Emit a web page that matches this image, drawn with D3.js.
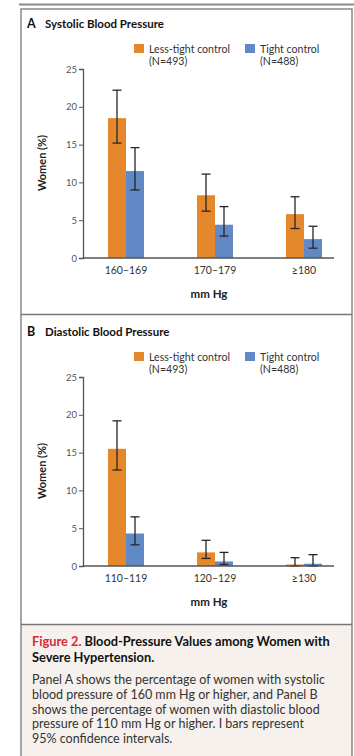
<!DOCTYPE html>
<html>
<head>
<meta charset="utf-8">
<script src="https://cdn.jsdelivr.net/npm/d3@7"></script>
<style>
  body { margin: 0; background: #fff; }
  svg text { font-family: Lato, "Open Sans", sans-serif; }
</style>
</head>
<body>
<svg id="chart" width="354" height="756"></svg>
<script>
// Panel A: systolic
const sysCats = ["160–169", "170–179", "≥180"];
const sysLess = [18.5, 8.3, 5.8];
const sysLessLo = [15.2, 6.2, 3.9];
const sysLessHi = [22.2, 11.1, 8.1];
const sysTight = [11.5, 4.4, 2.5];
const sysTightLo = [9.0, 2.9, 1.3];
const sysTightHi = [14.6, 6.8, 4.2];

// Panel B: diastolic
const diaCats = ["110–119", "120–129", "≥130"];
const diaLess = [15.5, 1.8, 0.2];
const diaLessLo = [12.7, 1.0, 0.0];
const diaLessHi = [19.2, 3.4, 1.1];
const diaTight = [4.3, 0.6, 0.3];
const diaTightLo = [2.8, 0.2, 0.0];
const diaTightHi = [6.5, 1.8, 1.5];

const yTicks = [0, 5, 10, 15, 20, 25];
const seriesNames = ["Less-tight control", "Tight control"];
const seriesN = ["(N=493)", "(N=488)"];
const colors = ["#e4882b", "#6189c5"];

const svg = d3.select("#chart");

// frame
svg.append("line").attr("x1", 19).attr("x2", 354).attr("y1", 4.5).attr("y2", 4.5)
  .attr("stroke", "#8a8a8a").attr("stroke-width", 2);
svg.append("rect").attr("x", 21).attr("y", 625).attr("width", 331).attr("height", 131)
  .attr("fill", "#f6f1ec");
svg.append("rect").attr("x", 21).attr("y", 9).attr("width", 331).attr("height", 760)
  .attr("fill", "none").attr("stroke", "#777").attr("stroke-width", 1.3);
svg.append("line").attr("x1", 21).attr("x2", 352).attr("y1", 314.5).attr("y2", 314.5)
  .attr("stroke", "#777").attr("stroke-width", 1.3);
svg.append("line").attr("x1", 21).attr("x2", 352).attr("y1", 624.5).attr("y2", 624.5)
  .attr("stroke", "#777").attr("stroke-width", 1.3);

function drawPanel(top, letter, title, cats, vals, los, his) {
  const g = svg.append("g").attr("transform", `translate(0,${top})`);
  const y = d3.scaleLinear().domain([0, 25]).range([258, 69]);
  const x = d3.scaleBand().domain(cats).range([81.5, 348.5])
    .paddingInner(0.5955).paddingOuter(0.2978);
  const xs = d3.scaleBand().domain([0, 1]).range([0, x.bandwidth()]);

  g.append("text").attr("x", 27).attr("y", 27.5)
    .style("font-size", "12.5px").style("font-weight", "bold").attr("fill", "#111").text(letter);
  g.append("text").attr("x", 45).attr("y", 27.5)
    .style("font-size", "11.5px").style("font-weight", "bold").attr("fill", "#111").text(title);

  // legend
  const lx = [134, 245];
  seriesNames.forEach((s, i) => {
    g.append("rect").attr("x", lx[i]).attr("y", 44).attr("width", 10).attr("height", 9)
      .attr("fill", colors[i]);
    g.append("text").attr("x", lx[i] + 15).attr("y", 52.5)
      .style("font-size", "10.6px").attr("fill", "#333").text(s);
    g.append("text").attr("x", lx[i] + 15).attr("y", 65)
      .style("font-size", "10.6px").attr("fill", "#333").text(seriesN[i]);
  });

  // y axis
  const yAxis = d3.axisLeft(y).tickValues(yTicks).tickSize(4).tickPadding(2);
  const yg = g.append("g").attr("transform", "translate(83,0)").call(yAxis);
  yg.select(".domain").attr("stroke", "#555").attr("stroke-width", 1.3);
  yg.selectAll(".tick line").attr("stroke", "#555");
  yg.selectAll(".tick text").style("font-size", "9.5px").attr("fill", "#555")
    .style("font-family", "Lato, sans-serif");

  // bars
  const data = cats.map((c, i) => ({ cat: c, vals: vals.map(v => v[i]),
    lo: los.map(v => v[i]), hi: his.map(v => v[i]) }));
  const grp = g.selectAll(".grp").data(data).join("g")
    .attr("transform", d => `translate(${x(d.cat)},0)`);
  grp.selectAll("rect").data(d => d.vals).join("rect")
    .attr("x", (d, j) => xs(j)).attr("width", xs.bandwidth())
    .attr("y", d => y(d)).attr("height", d => y(0) - y(d))
    .attr("fill", (d, j) => colors[j]);

  // error bars
  const eb = grp.selectAll(".eb").data(d => d.lo.map((l, j) => ({ j, lo: l, hi: d.hi[j] })))
    .join("g").attr("class", "eb")
    .attr("transform", d => `translate(${xs(d.j) + xs.bandwidth() / 2},0)`);
  eb.append("line").attr("y1", d => y(d.lo)).attr("y2", d => y(d.hi));
  eb.append("line").attr("x1", -4.5).attr("x2", 4.5).attr("y1", d => y(d.hi)).attr("y2", d => y(d.hi));
  eb.append("line").attr("x1", -4.5).attr("x2", 4.5).attr("y1", d => y(d.lo)).attr("y2", d => y(d.lo));
  eb.selectAll("line").attr("stroke", "#262626").attr("stroke-width", 1.3);

  // x axis line
  g.append("line").attr("x1", 83).attr("x2", 334).attr("y1", y(0)).attr("y2", y(0))
    .attr("stroke", "#555").attr("stroke-width", 1.3);
  g.selectAll(".xl").data(cats).join("text")
    .attr("x", d => x(d) + x.bandwidth() / 2).attr("y", 273.5)
    .attr("text-anchor", "middle").style("font-size", "10.5px").attr("fill", "#333").text(d => d);
  g.append("text").attr("x", 209).attr("y", 297.5).attr("text-anchor", "middle")
    .style("font-size", "11.5px").style("font-weight", "bold").attr("fill", "#222").text("mm Hg");

  g.append("text").attr("transform", "translate(46,163) rotate(-90)")
    .attr("text-anchor", "middle").style("font-size", "11px").style("font-weight", "bold")
    .attr("fill", "#222").text("Women (%)");
}

drawPanel(0, "A", "Systolic Blood Pressure", sysCats,
  [sysLess, sysTight], [sysLessLo, sysTightLo], [sysLessHi, sysTightHi]);
drawPanel(308, "B", "Diastolic Blood Pressure", diaCats,
  [diaLess, diaTight], [diaLessLo, diaTightLo], [diaLessHi, diaTightHi]);

// caption
const cap = svg.append("g").style("font-size", "12.5px");
const t1 = cap.append("text").attr("x", 32).attr("y", 646).style("font-weight", "bold")
  .style("font-size", "12.8px");
t1.append("tspan").attr("fill", "#d42a3c").text("Figure 2. ");
t1.append("tspan").attr("fill", "#111").text("Blood-Pressure Values among Women with");
cap.append("text").attr("x", 32).attr("y", 662).style("font-weight", "bold")
  .style("font-size", "12.8px").attr("fill", "#111").text("Severe Hypertension.");
const bodyLines = [
  "Panel A shows the percentage of women with systolic",
  "blood pressure of 160 mm Hg or higher, and Panel B",
  "shows the percentage of women with diastolic blood",
  "pressure of 110 mm Hg or higher. I bars represent",
  "95% confidence intervals."
];
cap.selectAll(".bl").data(bodyLines).join("text")
  .attr("x", 32).attr("y", (d, i) => 684 + i * 14.8).attr("fill", "#333").text(d => d);
</script>
</body>
</html>
